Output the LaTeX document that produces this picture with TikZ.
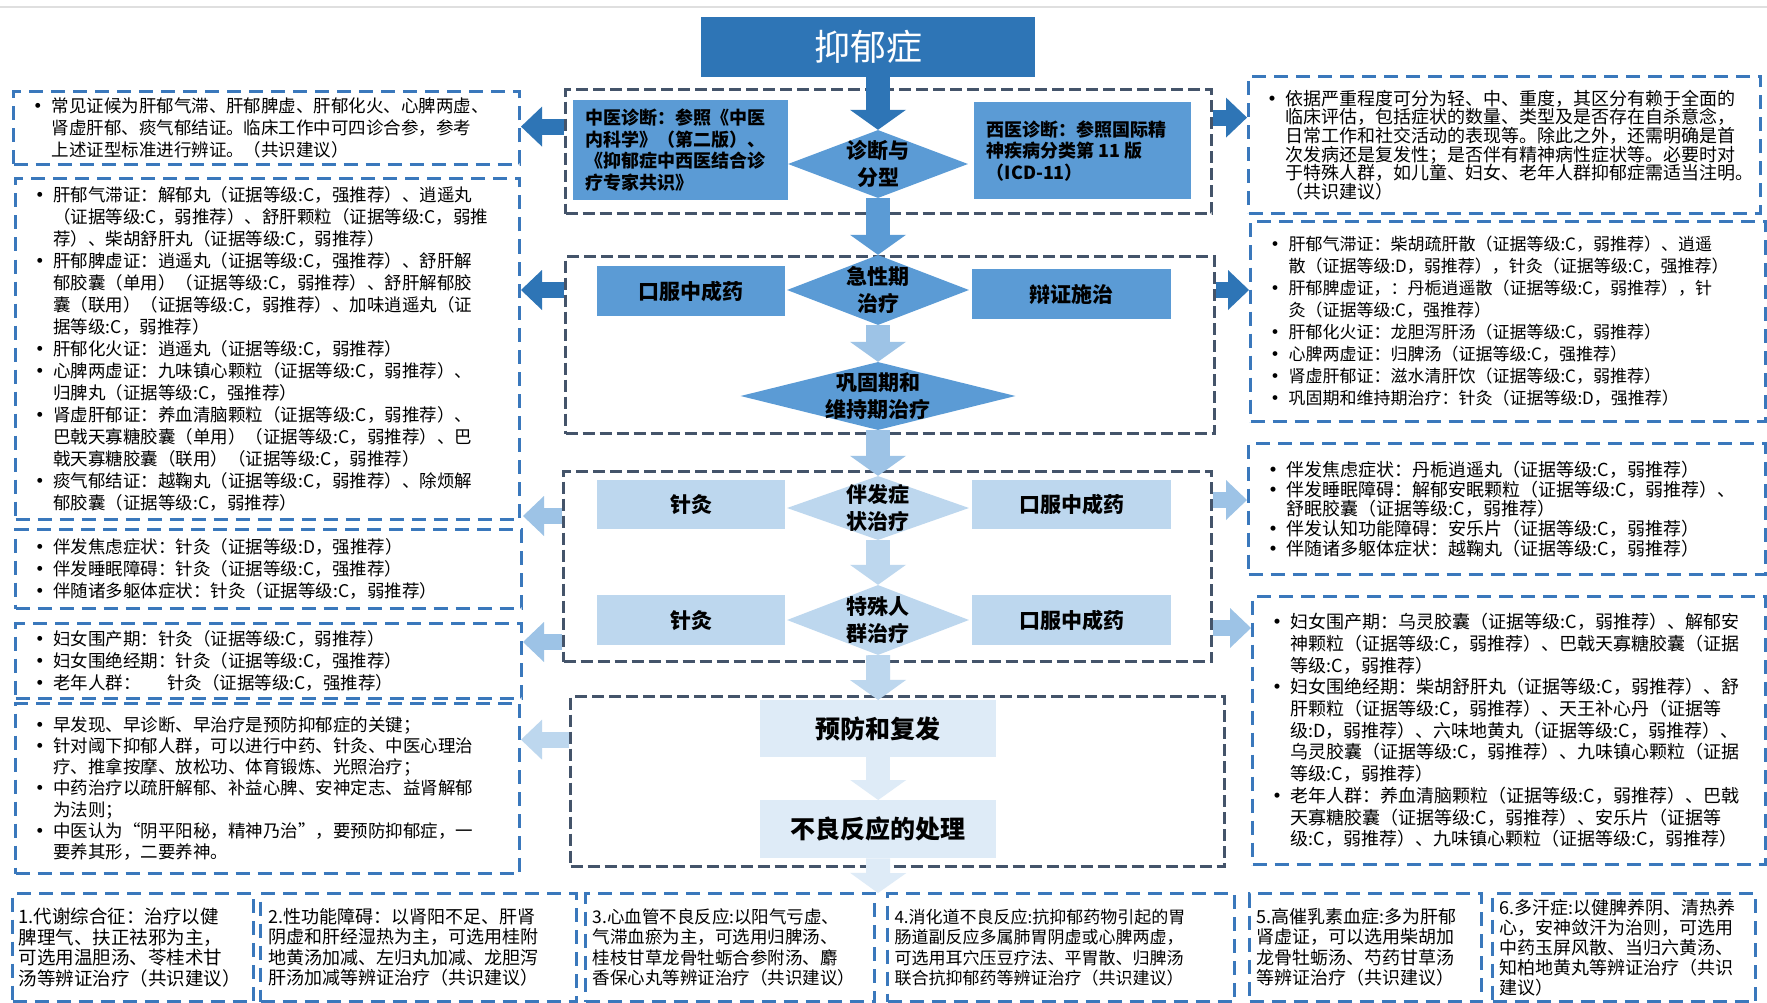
\documentclass[tikz,border=0pt]{standalone}
\usepackage{fontspec}
\setmainfont{Noto Sans CJK SC}
\usetikzlibrary{shapes.geometric,arrows.meta}

\definecolor{darkblue}{HTML}{2E75B6}
\definecolor{midblue}{HTML}{5B9BD5}
\definecolor{lightblue}{HTML}{9DC3E6}
\definecolor{paleblue}{HTML}{BDD7EE}
\definecolor{faintblue}{HTML}{DEEBF7}
\definecolor{framegray}{HTML}{44546A}
\definecolor{dashblue}{HTML}{3A78BC}

\newcommand{\bitem}{\par\hangindent=28pt\hangafter=1\noindent\makebox[28pt][l]{\hspace{6pt}\textbf{•}}}
\newcommand{\sidetxt}[4]{\parbox{#1}{\fontsize{#2}{#3}\selectfont#4}}

\tikzset{
  midframe/.style={draw=framegray, line width=3.2pt, dash pattern=on 12pt off 5pt, anchor=north west, inner sep=0pt},
  sidebox/.style={draw=dashblue, line width=3pt, dash pattern=on 14pt off 8pt, anchor=north west, inner sep=0pt},
  fillbox/.style={fill=#1, anchor=north west, inner sep=0pt, font=\bfseries\fontsize{21pt}{25pt}\selectfont},
  dia/.style={diamond, fill=#1, inner sep=0pt},
  diatext/.style={align=center, inner sep=0pt, font=\bfseries\fontsize{21pt}{27pt}\selectfont},
  downarrow/.style={draw=#1, line width=24pt, -{Triangle[length=20pt,width=56pt,line width=0pt]}},
  sidearrow/.style={draw=#1, line width=16pt, -{Triangle[length=21pt,width=40pt,line width=0pt]}},
}

\begin{document}
\begin{tikzpicture}[x=1pt,y=-1pt]
  \useasboundingbox[fill=white] (0,0) rectangle (1767,1003);
  \draw[gray!25, line width=2pt] (0,7) -- (1767,7);

  % dashed frames in the middle
  \node[midframe, minimum width=646pt, minimum height=124pt] (dbox) at (564,88) {};
  \node[midframe, minimum width=649pt, minimum height=177pt] (abox) at (564,255) {};
  \node[midframe, minimum width=648pt, minimum height=190pt] (cbox) at (562,470) {};
  \node[midframe, minimum width=654pt, minimum height=170pt] (pbox) at (569,695) {};

  % title and diagnosis
  \node[fillbox=darkblue, minimum width=334pt, minimum height=60pt,
        font=\fontsize{36pt}{40pt}\selectfont, text=white] (title) at (701,17) {抑郁症};
  \node[fillbox=midblue, minimum width=215pt, minimum height=100pt] (tcm) at (573,100)
    {\sidetxt{190pt}{18pt}{21.5pt}{中医诊断：参照《中医\\内科学》（第二版）、\\《抑郁症中西医结合诊\\疗专家共识》}};
  \node[fillbox=midblue, minimum width=217pt, minimum height=97pt] (west) at (974,102)
    {\sidetxt{192pt}{18pt}{21.5pt}{西医诊断：参照国际精\\神疾病分类第~11~版\\（ICD-11）}};
  \node[dia=midblue, minimum width=180pt, minimum height=68pt] (dia1) at (878,164) {};
  \node[diatext] (dia1t) at (dia1) {诊断与\\分型};

  % acute and maintenance
  \node[fillbox=midblue, minimum width=188pt, minimum height=50pt] (oral1) at (597,266) {口服中成药};
  \node[fillbox=midblue, minimum width=199pt, minimum height=50pt] (diff) at (972,269) {辩证施治};
  \node[dia=midblue, minimum width=182pt, minimum height=70pt] (dia2) at (878,290) {};
  \node[diatext] (dia2t) at (dia2) {急性期\\治疗};
  \node[dia=midblue, minimum width=275pt, minimum height=68pt] (dia3) at (878,396) {};
  \node[diatext] (dia3t) at (dia3) {巩固期和\\维持期治疗};

  % comorbid symptoms and special groups
  \node[fillbox=paleblue, minimum width=188pt, minimum height=49pt] (acu1) at (597,480) {针灸};
  \node[fillbox=paleblue, minimum width=199pt, minimum height=49pt] (oral2) at (972,480) {口服中成药};
  \node[dia=paleblue, minimum width=182pt, minimum height=64pt] (dia4) at (878,508) {};
  \node[diatext] (dia4t) at (dia4) {伴发症\\状治疗};
  \node[fillbox=paleblue, minimum width=188pt, minimum height=50pt] (acu2) at (597,595) {针灸};
  \node[fillbox=paleblue, minimum width=199pt, minimum height=50pt] (oral3) at (972,595) {口服中成药};
  \node[dia=paleblue, minimum width=182pt, minimum height=70pt] (dia5) at (878,620) {};
  \node[diatext] (dia5t) at (dia5) {特殊人\\群治疗};

  % prevention
  \node[fillbox=faintblue, minimum width=236pt, minimum height=57pt,
        font=\bfseries\fontsize{25pt}{30pt}\selectfont] (prev) at (760,700) {预防和复发};
  \node[fillbox=faintblue, minimum width=236pt, minimum height=58pt,
        font=\bfseries\fontsize{25pt}{30pt}\selectfont] (adv) at (760,800) {不良反应的处理};
  \coordinate (outend) at (878,893);

  % left column
  \node[sidebox, minimum width=506pt, minimum height=73pt] (l1) at (12,90)
    {\sidetxt{486pt}{17.5pt}{21.7pt}{\bitem 常见证候为肝郁气滞、肝郁脾虚、肝郁化火、心脾两虚、\\肾虚肝郁、痰气郁结证。临床工作中可四诊合参，参考\\上述证型标准进行辨证。（共识建议）}};
  \node[sidebox, minimum width=504pt, minimum height=341pt] (l2) at (14,177)
    {\sidetxt{484pt}{17.5pt}{22pt}{%
     \bitem 肝郁气滞证：解郁丸（证据等级:C，强推荐）、逍遥丸\\（证据等级:C，弱推荐）、舒肝颗粒（证据等级:C，弱推\\荐）、柴胡舒肝丸（证据等级:C，弱推荐）%
     \bitem 肝郁脾虚证：逍遥丸（证据等级:C，强推荐）、舒肝解\\郁胶囊（单用）（证据等级:C，弱推荐）、舒肝解郁胶\\囊（联用）（证据等级:C，弱推荐）、加味逍遥丸（证\\据等级:C，弱推荐）%
     \bitem 肝郁化火证：逍遥丸（证据等级:C，弱推荐）%
     \bitem 心脾两虚证：九味镇心颗粒（证据等级:C，弱推荐）、\\归脾丸（证据等级:C，强推荐）%
     \bitem 肾虚肝郁证：养血清脑颗粒（证据等级:C，弱推荐）、\\巴戟天寡糖胶囊（单用）（证据等级:C，弱推荐）、巴\\戟天寡糖胶囊（联用）（证据等级:C，弱推荐）%
     \bitem 痰气郁结证：越鞠丸（证据等级:C，弱推荐）、除烦解\\郁胶囊（证据等级:C，弱推荐）}};
  \node[sidebox, minimum width=506pt, minimum height=79pt] (l3) at (14,528)
    {\sidetxt{486pt}{17.5pt}{22pt}{%
     \bitem 伴发焦虑症状：针灸（证据等级:D，强推荐）%
     \bitem 伴发睡眠障碍：针灸（证据等级:C，强推荐）%
     \bitem 伴随诸多躯体症状：针灸（证据等级:C，弱推荐）}};
  \node[sidebox, minimum width=506pt, minimum height=75pt] (l4) at (14,622)
    {\sidetxt{486pt}{17.5pt}{22pt}{%
     \bitem 妇女围产期：针灸（证据等级:C，弱推荐）%
     \bitem 妇女围绝经期：针灸（证据等级:C，强推荐）%
     \bitem 老年人群：\hspace{1.5em}针灸（证据等级:C，强推荐）}};
  \node[sidebox, minimum width=504pt, minimum height=170pt] (l5) at (14,702)
    {\sidetxt{484pt}{17.5pt}{21.3pt}{%
     \bitem 早发现、早诊断、早治疗是预防抑郁症的关键；%
     \bitem 针对阈下抑郁人群，可以进行中药、针灸、中医心理治\\疗、推拿按摩、放松功、体育锻炼、光照治疗；%
     \bitem 中药治疗以疏肝解郁、补益心脾、安神定志、益肾解郁\\为法则；%
     \bitem 中医认为“阴平阳秘，精神乃治”，要预防抑郁症，一\\要养其形，二要养神。}};

  % right column
  \node[sidebox, minimum width=512pt, minimum height=137pt] (r1) at (1247,75)
    {\sidetxt{494pt}{18pt}{18.7pt}{%
     \bitem 依据严重程度可分为轻、中、重度，其区分有赖于全面的\\临床评估，包括症状的数量、类型及是否存在自杀意念，\\日常工作和社交活动的表现等。除此之外，还需明确是首\\次发病还是复发性；是否伴有精神病性症状等。必要时对\\于特殊人群，如儿童、妇女、老年人群抑郁症需适当注明。\\（共识建议）}};
  \node[sidebox, minimum width=515pt, minimum height=200pt] (r2) at (1249,220)
    {\sidetxt{495pt}{17pt}{22pt}{%
     \bitem 肝郁气滞证：柴胡疏肝散（证据等级:C，弱推荐）、逍遥\\散（证据等级:D，弱推荐），针灸（证据等级:C，强推荐）%
     \bitem 肝郁脾虚证，：丹栀逍遥散（证据等级:C，弱推荐），针\\灸（证据等级:C，强推荐）%
     \bitem 肝郁化火证：龙胆泻肝汤（证据等级:C，弱推荐）%
     \bitem 心脾两虚证：归脾汤（证据等级:C，强推荐）%
     \bitem 肾虚肝郁证：滋水清肝饮（证据等级:C，弱推荐）%
     \bitem 巩固期和维持期治疗：针灸（证据等级:D，强推荐）}};
  \node[sidebox, minimum width=517pt, minimum height=131pt] (r3) at (1247,442)
    {\sidetxt{497pt}{18pt}{19.7pt}{%
     \bitem 伴发焦虑症状：丹栀逍遥丸（证据等级:C，弱推荐）%
     \bitem 伴发睡眠障碍：解郁安眠颗粒（证据等级:C，弱推荐）、\\舒眠胶囊（证据等级:C，弱推荐）%
     \bitem 伴发认知功能障碍：安乐片（证据等级:C，弱推荐）%
     \bitem 伴随诸多躯体症状：越鞠丸（证据等级:C，弱推荐）}};
  \node[sidebox, minimum width=513pt, minimum height=268pt] (r4) at (1251,595)
    {\sidetxt{493pt}{18pt}{21.7pt}{%
     \bitem 妇女围产期：乌灵胶囊（证据等级:C，弱推荐）、解郁安\\神颗粒（证据等级:C，弱推荐）、巴戟天寡糖胶囊（证据\\等级:C，弱推荐）%
     \bitem 妇女围绝经期：柴胡舒肝丸（证据等级:C，弱推荐）、舒\\肝颗粒（证据等级:C，弱推荐）、天王补心丹（证据等\\级:D，弱推荐）、六味地黄丸（证据等级:C，弱推荐）、\\乌灵胶囊（证据等级:C，弱推荐）、九味镇心颗粒（证据\\等级:C，弱推荐）%
     \bitem 老年人群：养血清脑颗粒（证据等级:C，弱推荐）、巴戟\\天寡糖胶囊（证据等级:C，弱推荐）、安乐片（证据等\\级:C，弱推荐）、九味镇心颗粒（证据等级:C，弱推荐）}};

  % bottom row
  \node[sidebox, minimum width=241pt, minimum height=108pt] (b1) at (11,892)
    {\sidetxt{229pt}{18.5pt}{20.5pt}{1.代谢综合征：治疗以健\\脾理气、扶正祛邪为主，\\可选用温胆汤、苓桂术甘\\汤等辨证治疗（共识建议）}};
  \node[sidebox, minimum width=316pt, minimum height=108pt] (b2) at (259,892)
    {\sidetxt{300pt}{18pt}{20.5pt}{2.性功能障碍：以肾阳不足、肝肾\\阴虚和肝经湿热为主，可选用桂附\\地黄汤加减、左归丸加减、龙胆泻\\肝汤加减等辨证治疗（共识建议）}};
  \node[sidebox, minimum width=289pt, minimum height=108pt] (b3) at (584,892)
    {\sidetxt{275pt}{17.5pt}{20.5pt}{3.心血管不良反应:以阳气亏虚、\\气滞血瘀为主，可选用归脾汤、\\桂枝甘草龙骨牡蛎合参附汤、麝\\香保心丸等辨证治疗（共识建议）}};
  \node[sidebox, minimum width=347pt, minimum height=108pt] (b4) at (886,892)
    {\sidetxt{333pt}{17pt}{20.5pt}{4.消化道不良反应:抗抑郁药物引起的胃\\肠道副反应多属肺胃阴虚或心脾两虚，\\可选用耳穴压豆疗法、平胃散、归脾汤\\联合抗抑郁药等辨证治疗（共识建议）}};
  \node[sidebox, minimum width=232pt, minimum height=108pt] (b5) at (1248,892)
    {\sidetxt{218pt}{18pt}{20.5pt}{5.高催乳素血症:多为肝郁\\肾虚证，可以选用柴胡加\\龙骨牡蛎汤、芍药甘草汤\\等辨证治疗（共识建议）}};
  \node[sidebox, minimum width=263pt, minimum height=108pt] (b6) at (1491,892)
    {\sidetxt{249pt}{18pt}{20pt}{6.多汗症:以健脾养阴、清热养\\心，安神敛汗为治则，可选用\\中药玉屏风散、当归六黄汤、\\知柏地黄丸等辨证治疗（共识\\建议）}};

  % arrows down the middle
  \draw[downarrow=darkblue] (dia1.north |- title.south) -- (dia1.north);
  \draw[downarrow=midblue] (dia1.south) -- (dia2.north);
  \draw[downarrow=lightblue] (dia2.south) -- (dia3.north);
  \draw[downarrow=lightblue] (dia3.south) -- (dia4.north);
  \draw[downarrow=paleblue] (dia4.south) -- (dia5.north);
  \draw[downarrow=paleblue] (dia5.south) -- (prev.north);
  \draw[downarrow=faintblue] (prev.south) -- (adv.north);
  \draw[downarrow=faintblue] (adv.south) -- (outend);

  % arrows to the sides
  \draw[sidearrow=darkblue] ([yshift=25pt]dbox.west) -- ([yshift=25pt]dbox.west -| l1.east);
  \draw[sidearrow=darkblue] ([yshift=34pt]dbox.east) -- ([yshift=34pt]dbox.east -| r1.west);
  \draw[sidearrow=darkblue] (dia2 -| abox.west) -- (dia2 -| l2.east);
  \draw[sidearrow=darkblue] (dia2 -| abox.east) -- (dia2 -| r2.west);
  \draw[sidearrow=lightblue] ([yshift=-8pt]dia4.center -| cbox.west) -- ([yshift=-8pt]dia4.center -| l3.east);
  \draw[sidearrow=lightblue] ([yshift=8pt]dia4.center -| cbox.east) -- ([yshift=8pt]dia4.center -| r3.west);
  \draw[sidearrow=lightblue] ([yshift=-22pt]dia5.center -| cbox.west) -- ([yshift=-22pt]dia5.center -| l4.east);
  \draw[sidearrow=lightblue] ([yshift=-8pt]dia5.center -| cbox.east) -- ([yshift=-8pt]dia5.center -| r4.west);
  \draw[sidearrow=paleblue] ([yshift=-11pt]prev.center -| pbox.west) -- ([yshift=-11pt]prev.center -| l5.east);
\end{tikzpicture}
\end{document}
